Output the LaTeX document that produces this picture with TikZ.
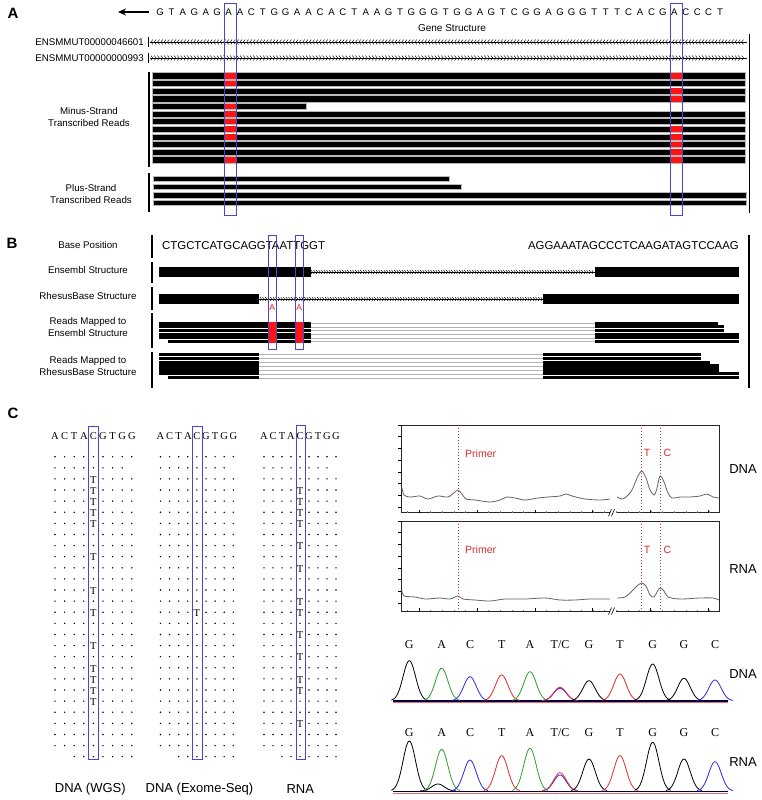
\documentclass[tikz,border=0pt]{standalone}
\usepackage{fontspec}
\setmainfont{Liberation Serif}
\setsansfont{Liberation Sans}
\newfontfamily\arial{Liberation Sans}
\usetikzlibrary{arrows.meta}
\definecolor{boxblue}{RGB}{70,70,210}
\definecolor{rd}{RGB}{255,20,20}
\definecolor{pkgreen}{RGB}{40,160,40}
\definecolor{pkblue}{RGB}{40,40,225}
\definecolor{pkred}{RGB}{230,40,40}
\definecolor{dotred}{RGB}{215,45,45}
\definecolor{trace}{RGB}{100,100,100}
\tikzset{
  panel/.style={font=\arial\bfseries\fontsize{15}{16}\selectfont, inner sep=0pt},
  lbl/.style={font=\arial\fontsize{9.7}{11}\selectfont, inner sep=0pt, align=center},
  seqA/.style={font=\arial\fontsize{9.6}{11}\selectfont, inner sep=0pt},
  seqB/.style={font=\arial\fontsize{11.4}{13}\selectfont, inner sep=0pt},
  big/.style={font=\arial\fontsize{13}{15}\selectfont, inner sep=0pt},
  ser/.style={font=\fontsize{10.5}{12}\selectfont, inner sep=0pt},
  serbig/.style={font=\fontsize{12}{14}\selectfont, inner sep=0pt},
  hbox/.style={draw=boxblue, line width=1pt},
  vbar/.style={line width=1.4pt},
  readrow/.style={fill=black, draw=gray!55, line width=0.5pt},
  chev/.style={line width=0.45pt},
  intron/.style={draw=gray!60, line width=0.5pt},
  redline/.style={draw=dotred, dotted, line width=1pt},
  frame/.style={draw=black!85, line width=0.8pt},
}
\begin{document}
\begin{tikzpicture}[x=1pt,y=-1pt]
\useasboundingbox (0,0) rectangle (761,800);
\fill[white] (0,0) rectangle (761,800);

%%%%%%%%%%%%%%%% PANEL A
\node[panel] (pA) at (13,13) {A};
\draw[-{Stealth[length=8pt,width=7pt]}, line width=1.2pt] (149,12) -- (118,12);
\foreach \c [count=\i from 0] in {G,T,A,G,A,G,A,A,C,T,G,G,A,A,C,A,C,T,A,A,G,T,G,G,G,T,G,G,A,G,T,C,G,G,A,G,G,G,T,T,T,C,A,C,G,A,C,C,C,T}
  \node[seqA] at ({160+\i*11.43},12.5) {\c};
\node[lbl, font=\arial\fontsize{10}{12}\selectfont] (gs) at (452,28) {Gene Structure};
\node[lbl, anchor=east] (t1) at (144,42) {ENSMMUT00000046601};
\node[lbl, anchor=east] (t2) at (144,58) {ENSMMUT00000000993};
\draw[line width=1pt] (148,37) -- (148,47);
\draw[line width=1pt] (148,53) -- (148,63);
\draw[line width=0.4pt] (150,42) -- (747,42);
\draw[line width=0.4pt] (150,58) -- (747,58);
\foreach \x in {151,154.3,...,745}{
  \draw[chev] (\x+1.8,39.6) -- (\x,42) -- (\x+1.8,44.4);
  \draw[chev] (\x,55.6) -- (\x+1.8,58) -- (\x,60.4);
}
\draw[line width=1.6pt] (749.5,34) -- (749.5,213);

% minus-strand reads
\draw[vbar] (149,72) -- (149,167);
\node[lbl] (ms) at (89,117) {Minus-Strand\\[1pt]Transcribed Reads};
\foreach \i in {0,...,11}{
  \pgfmathsetmacro{\yt}{72.7+7.64*\i}
  \ifnum\i=4
    \draw[readrow] (152,\yt) rectangle (306,\yt+6.2);
  \else
    \draw[readrow] (152,\yt) rectangle (745.5,\yt+6.2);
  \fi
}
\foreach \i in {0,1,4,5,6,7,8,11}{
  \pgfmathsetmacro{\yt}{72.7+7.64*\i}
  \fill[rd] (224.3,\yt+0.3) rectangle (236.7,\yt+5.9);
}
\foreach \i in {0,2,3,7,8,9,10,11}{
  \pgfmathsetmacro{\yt}{72.7+7.64*\i}
  \fill[rd] (669.5,\yt+0.3) rectangle (682,\yt+5.9);
}
% plus-strand reads
\draw[vbar] (149,173) -- (149,212);
\node[lbl] (ps) at (91,194) {Plus-Strand\\[1pt]Transcribed Reads};
\draw[readrow] (153,176) rectangle (449,181.5);
\draw[readrow] (153,184) rectangle (461,189.5);
\draw[readrow] (153,192.5) rectangle (746,198);
\draw[readrow] (153,200) rectangle (746,205.5);
% boxes
\draw[hbox] (224,4) rectangle (236.5,215);
\draw[hbox] (670,4) rectangle (682,215);

%%%%%%%%%%%%%%%% PANEL B
\node[panel] (pB) at (12,243) {B};
\node[lbl] (b1) at (88,245) {Base Position};
\node[lbl] (b2) at (88,270) {Ensembl Structure};
\node[lbl] (b3) at (88,296) {RhesusBase Structure};
\node[lbl] (b4) at (88,327) {Reads Mapped to\\[1pt]Ensembl Structure};
\node[lbl] (b5) at (88,366) {Reads Mapped to\\[1pt]RhesusBase Structure};
\draw[vbar] (152,235) -- (152,258);
\draw[vbar] (152,262) -- (152,283);
\draw[vbar] (152,287) -- (152,310);
\draw[vbar] (152,313) -- (152,348);
\draw[vbar] (152,352) -- (152,388);
\draw[line width=1.3pt] (749,235) -- (749,388);
\node[seqB, anchor=west] (s1) at (162,245.7) {CTGCTCATGCAGGTAATTGGT};
\node[seqB, anchor=east] (s2) at (739,245.7) {AGGAAATAGCCCTCAAGATAGTCCAAG};
% structures
\fill (159,267.3) rectangle (310.7,276.7);
\fill (595,267.3) rectangle (739,276.7);
\draw[line width=0.4pt] (310,272) -- (595,272);
\foreach \x in {311,313.6,...,593}
  \draw[chev] (\x,270.1) -- (\x+1.4,272) -- (\x,273.9);
\fill (159,294.3) rectangle (259.3,304);
\fill (543,294.3) rectangle (739,304);
\draw[line width=0.4pt] (259,299) -- (543,299);
\foreach \x in {260,262.6,...,541}
  \draw[chev] (\x,297.1) -- (\x+1.4,299) -- (\x,300.9);
\node[font=\arial\fontsize{8.5}{9}\selectfont, text=rd, inner sep=0pt] (ra1) at (272.2,307.5) {A};
\node[font=\arial\fontsize{8.5}{9}\selectfont, text=rd, inner sep=0pt] (ra2) at (299.3,307.5) {A};
% reads mapped to Ensembl
\foreach \i/\s/\e in {0/159/717.7,1/159/724.3,2/159/724.3,3/159/739.3,4/159/739.3,5/168/739.3}{
  \pgfmathsetmacro{\yt}{321.7+3.6*\i}
  \draw[intron] (311,\yt+1.8) -- (595,\yt+1.8);
  \fill (\s,\yt) rectangle (311,\yt+3.0);
  \fill (595,\yt) rectangle (\e,\yt+3.0);
}
\fill[rd] (268.6,321.7) rectangle (275.8,343.3);
\fill[rd] (295.6,321.7) rectangle (303,343.3);
% reads mapped to RhesusBase
\foreach \i/\s/\e in {0/159/700.7,1/159/700.7,2/159/710,3/159/719.3,4/159/719.3,5/159/739.3,6/168/739.3}{
  \pgfmathsetmacro{\yt}{352.7+3.9*\i}
  \draw[intron] (259.3,\yt+1.9) -- (543,\yt+1.9);
  \fill (\s,\yt) rectangle (259.3,\yt+3.2);
  \fill (543,\yt) rectangle (\e,\yt+3.2);
}
\draw[hbox] (268.3,235) rectangle (276,349);
\draw[hbox] (295.3,235) rectangle (303.3,349);

%%%%%%%%%%%%%%%% PANEL C
\node[panel] (pC) at (13,413) {C};
\foreach \cz/\sp in {55/9.6,160.5/9.1,264/9.0}{
  \foreach \c [count=\k from 0] in {A,C,T,A,C,G,T,G,G}
    \node[ser] at ({\cz+\k*\sp},436) {\c};
  \foreach \r in {0,2,3,...,26}
    \foreach \c in {0,1,2,3,5,6,7,8}
      \fill ({\cz+\c*\sp},{456.7+11.11*\r}) circle (0.8);
  \foreach \c in {0,1,2,3,5,6,7}
    \fill ({\cz+\c*\sp},{456.7+11.11}) circle (0.8);
  \foreach \c in {2,3,5,6,7,8}
    \fill ({\cz+\c*\sp},{456.7+11.11*27}) circle (0.8);
}
\foreach \r in {0,1,7,8,10,11,13,15,16,18,23,24,25,26,27}
  \fill ({55+4*9.6},{456.7+11.11*\r}) circle (0.8);
\foreach \r in {2,3,4,5,6,9,12,14,17,19,20,21,22}
  \node[ser] at ({55+4*9.6},{457.5+11.11*\r}) {T};
\foreach \r in {0,1,...,13,15,16,...,27}
  \fill ({160.5+4*9.1},{456.7+11.11*\r}) circle (0.8);
\node[ser] at ({160.5+4*9.1},{457.5+11.11*14}) {T};
\foreach \r in {0,1,2,7,9,11,12,15,17,19,22,23,25,26,27}
  \fill ({264+4*9.0},{456.7+11.11*\r}) circle (0.8);
\foreach \r in {3,4,5,6,8,10,13,14,16,18,20,21,24}
  \node[ser] at ({264+4*9.0},{457.5+11.11*\r}) {T};
\draw[hbox] (88.7,426) rectangle (98.7,759.3);
\draw[hbox] (192.5,426) rectangle (202,759.3);
\draw[hbox] (296,425.3) rectangle (305.7,759);
\node[big] (l1) at (90.3,789) {DNA (WGS)};
\node[big] (l2) at (199.5,789) {DNA (Exome-Seq)};
\node[big] (l3) at (300.3,789) {RNA};

% capillary traces
\foreach \yt/\yb in {425/512.7,521/611}{
  \draw[frame] (401.5,\yt) rectangle (719.3,\yb);
  \foreach \k in {0,...,7}
    \draw[line width=0.5pt] (398,{\yt+11.7*\k}) -- (401.5,{\yt+11.7*\k});
  \foreach \k in {0,...,26}
    \draw[line width=0.4pt, gray] ({407.4+11.6*\k},\yb) -- ({407.4+11.6*\k},\yb-1.5);
  \foreach \xx in {419,477,535,592,650,708}
    \draw[line width=0.5pt] (\xx,\yb) -- (\xx,\yb-3);
  \fill[white] (609.5,\yb-2) rectangle (615.5,\yb+2);
  \draw[line width=0.6pt] (608.5,\yb+3.5) -- (611.5,\yb-3.5);
  \draw[line width=0.6pt] (611.5,\yb+3.5) -- (614.5,\yb-3.5);
  \draw[redline] (458.3,\yt) -- (458.3,\yb);
  \draw[redline] (641.7,\yt) -- (641.7,\yb);
  \draw[redline] (660,\yt) -- (660,\yb);
}
\node[lbl, font=\arial\fontsize{10.5}{12}\selectfont, text=dotred, anchor=west] (pr1) at (465,453.3) {Primer};
\node[lbl, font=\arial\fontsize{10.5}{12}\selectfont, text=dotred] (tt1) at (647,453.3) {T};
\node[lbl, font=\arial\fontsize{10.5}{12}\selectfont, text=dotred] (cc1) at (667.5,453.3) {C};
\node[lbl, font=\arial\fontsize{10.5}{12}\selectfont, text=dotred, anchor=west] (pr2) at (465,550) {Primer};
\node[lbl, font=\arial\fontsize{10.5}{12}\selectfont, text=dotred] (tt2) at (647,550) {T};
\node[lbl, font=\arial\fontsize{10.5}{12}\selectfont, text=dotred] (cc2) at (667.5,550) {C};
\node[big] (d1) at (743,469) {DNA};
\node[big] (r1) at (743,569.3) {RNA};
\draw[trace, line width=0.8pt] plot[smooth, tension=0.5] coordinates {(402,488) (404,495) (410,497) (420,496) (428,499) (438,496) (448,497) (455,492) (458,490) (462,494) (466,499) (475,500) (490,502) (500,500) (507,497) (515,498) (525,500) (538,498) (548,497) (560,496) (566,494) (572,496) (585,499) (600,500) (610,499)};
\draw[trace, line width=0.8pt] plot[smooth, tension=0.5] coordinates {(617,497) (622,499) (626,497) (632,490) (637,478) (641.7,471) (646,478) (650,490) (654,495) (656.5,490) (660,476) (664,482) (668,493) (672,498) (680,497) (690,497) (700,496) (707,494) (713,497) (719,498)};
\draw[trace, line width=0.8pt] plot[smooth, tension=0.5] coordinates {(402,591) (404,596) (415,597) (425,599) (440,598) (450,599) (458,596) (463,599) (475,600) (490,601) (505,599) (525,599) (545,598) (560,600) (575,600) (590,599) (610,599)};
\draw[trace, line width=0.8pt] plot[smooth, tension=0.5] coordinates {(617,598) (625,597) (632,591) (637,586) (641.7,583) (646,586) (650,595) (654,597) (657,592) (660,588) (664,591) (668,597) (680,599) (700,598) (713,598) (719,600)};

% Sanger chromatograms
\foreach \c/\cx in {G/409.3,A/441.7,C/470,T/501.7,A/530,T\slash C/560,G/589,T/620,G/652.7,G/684,C/715}{
  \node[serbig] at (\cx,645) {\c};
  \node[serbig] at (\cx,732.7) {\c};
}
\node[big] (d2) at (743,674) {DNA};
\node[big] (r2) at (743,761.7) {RNA};
\draw[line width=1.2pt, black!75!blue] (393,701) -- (728,701);
\draw[line width=1.2pt, black!75!blue] (393,791.5) -- (728,791.5);
\draw[line width=0.3pt, pkred!70] (393,702.2) -- (728,702.2);
\draw[line width=0.3pt, pkred!70] (393,792.7) -- (728,792.7);
\foreach \col/\cx/\h/\b in {black/409.3/40/700.7, pkgreen/441.7/32.4/700.7, pkblue/470/24/700.7, pkred/501.7/25.7/700.7, pkgreen/530/29/700.7, pkblue/560/12.4/700.7, pkred/560/13.4/700.7, black/589/20/700.7, pkred/620/26.7/700.7, black/652.7/36.7/700.7, black/684/22.4/700.7, pkblue/715/20.7/700.7,
  black/409.3/50/791, black/438/7/791, pkgreen/441.7/41.7/791, pkblue/470/31/791, pkred/501.7/35.3/791, pkgreen/530/42.7/791, pkblue/560/16/791, pkred/560/18.3/791, black/589/32/791, pkred/620/35.3/791, black/652.7/48.7/791, black/684/32/791, pkblue/715/29.3/791}
  \draw[\col, line width=0.8pt] plot[variable=\t, domain=\cx-18:\cx+18, samples=41, smooth] (\t, {\b-\h*exp(-((\t-\cx)/8.8)^2)});
\end{tikzpicture}
\end{document}
